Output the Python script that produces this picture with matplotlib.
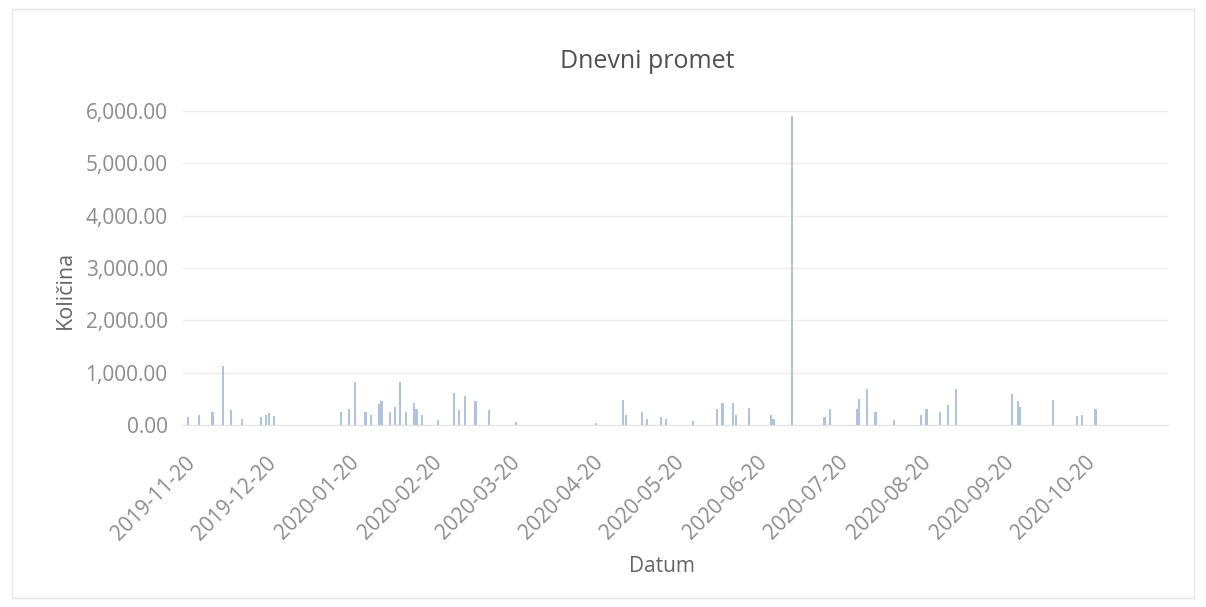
import matplotlib.pyplot as plt
import matplotlib.dates as mdates
import matplotlib.transforms as mtransforms
from matplotlib.ticker import FuncFormatter
from matplotlib.patches import Rectangle
import pandas as pd

# daily amounts
dates = ['2019-11-17', '2019-11-21', '2019-11-26', '2019-11-30', '2019-12-03',
         '2019-12-07', '2019-12-14', '2019-12-16', '2019-12-17', '2019-12-19',
         '2020-01-13', '2020-01-16', '2020-01-18', '2020-01-22', '2020-01-24',
         '2020-01-27', '2020-01-28', '2020-01-31', '2020-02-02', '2020-02-04',
         '2020-02-06', '2020-02-09', '2020-02-10', '2020-02-12', '2020-02-18',
         '2020-02-24', '2020-02-26', '2020-02-28', '2020-03-03', '2020-03-08',
         '2020-03-18', '2020-04-17', '2020-04-27', '2020-04-28', '2020-05-04',
         '2020-05-06', '2020-05-11', '2020-05-13', '2020-05-23', '2020-06-01',
         '2020-06-03', '2020-06-07', '2020-06-08', '2020-06-13', '2020-06-21',
         '2020-06-22', '2020-06-29', '2020-07-11', '2020-07-13', '2020-07-23',
         '2020-07-24', '2020-07-27', '2020-07-30', '2020-08-06', '2020-08-16',
         '2020-08-18', '2020-08-23', '2020-08-26', '2020-08-29', '2020-09-19',
         '2020-09-21', '2020-09-22', '2020-10-04', '2020-10-13', '2020-10-15',
         '2020-10-20']
kolicina = [150, 200, 250, 1120, 280,
            120, 150, 200, 230, 180,
            250, 300, 830, 250, 200,
            400, 450, 250, 350, 820,
            250, 420, 300, 200, 100,
            620, 280, 560, 450, 280,
            60, 30, 480, 200, 250,
            120, 150, 120, 80, 300,
            420, 420, 200, 330, 200,
            120, 5900, 150, 300, 300,
            500, 680, 250, 100, 200,
            300, 250, 380, 680, 600,
            450, 350, 480, 180, 200,
            300]

tick_dates = ['2019-11-20', '2019-12-20', '2020-01-20', '2020-02-20', '2020-03-20',
              '2020-04-20', '2020-05-20', '2020-06-20', '2020-07-20', '2020-08-20',
              '2020-09-20', '2020-10-20']
y_ticks = [0, 1000, 2000, 3000, 4000, 5000, 6000]

plt.rcParams['font.family'] = ['Open Sans', 'DejaVu Sans']

x = pd.to_datetime(dates)
fig = plt.figure(figsize=(12.06, 6.07), dpi=100)
ax = fig.add_axes([0.1517, 0.2998, 0.8168, 0.5173])

ax.bar(x, kolicina, width=0.8, color='#b0c3dc', zorder=3)

ax.set_xlim(pd.Timestamp('2019-11-15'), pd.Timestamp('2020-11-16'))
ax.set_ylim(0, 6000)
ax.set_yticks(y_ticks)
ax.yaxis.set_major_formatter(FuncFormatter(lambda v, p: '{:,.2f}'.format(v)))
ax.set_xticks(pd.to_datetime(tick_dates))
ax.xaxis.set_major_formatter(mdates.DateFormatter('%Y-%m-%d'))

ax.grid(axis='y', color='#ececec', linewidth=1, zorder=0)
for s in ['top', 'right', 'left']:
    ax.spines[s].set_visible(False)
ax.spines['bottom'].set_color('#e0e0e0')
ax.tick_params(axis='both', length=0, labelsize=15, labelcolor='#8c8c8c')
ax.tick_params(axis='y', pad=11)
ax.tick_params(axis='x', pad=25)

shift = mtransforms.ScaledTranslation(-4 / 100, 0, fig.dpi_scale_trans)
for lab in ax.get_xticklabels():
    lab.set_rotation(45)
    lab.set_ha('right')
    lab.set_va('center')
    lab.set_rotation_mode('anchor')
    lab.set_transform(lab.get_transform() + shift)

fig.text(647 / 1206, 1 - 62 / 607, 'Dnevni promet', fontsize=18, color='#505050',
         ha='center', va='center')
fig.text(65 / 1206, 1 - 290 / 607, 'Količina', fontsize=15.5, color='#666666',
         ha='center', va='center', rotation=90)
fig.text(662 / 1206, 1 - 566 / 607, 'Datum', fontsize=15, color='#666666',
         ha='center', va='center')

fig.patches.append(Rectangle((0.01, 0.015), 0.98, 0.97, transform=fig.transFigure,
                             fill=False, edgecolor='#e6e6e6', linewidth=1))

plt.savefig('out.png')
